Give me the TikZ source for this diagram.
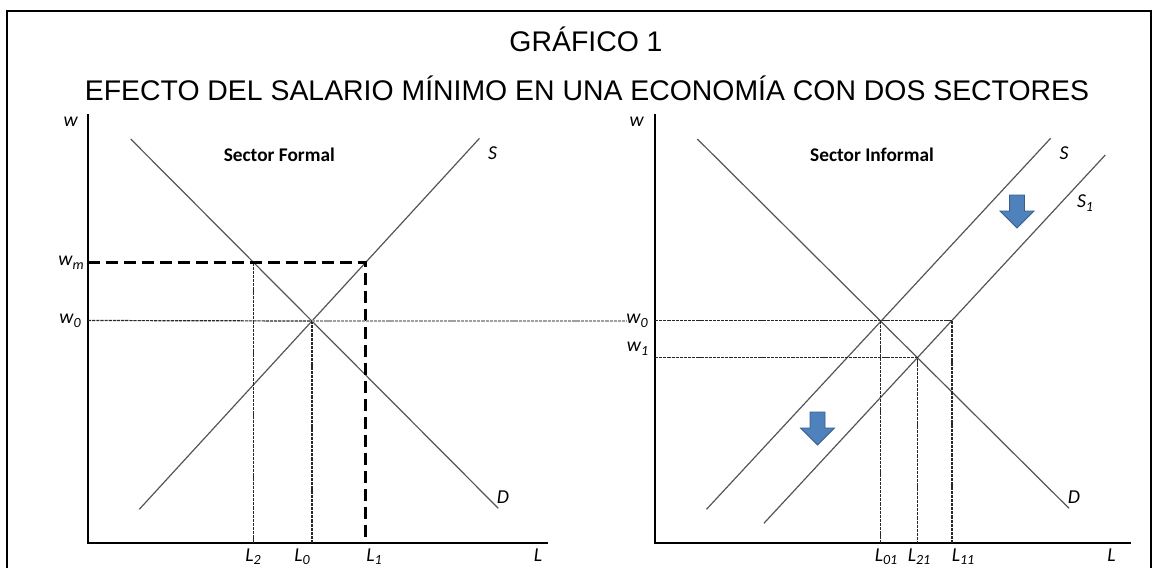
\documentclass[tikz,border=0pt]{standalone}
\usepackage{fontspec}
\setmainfont{Liberation Sans}
\newfontfamily\calfont{Carlito}
\definecolor{curvegray}{RGB}{85,85,85}
\definecolor{dashgray}{RGB}{40,40,40}
\definecolor{lightdash}{RGB}{160,160,160}
\definecolor{arrowblue}{RGB}{79,129,189}
\definecolor{arrowedge}{RGB}{56,93,138}
\newcommand{\sbx}[1]{\raisebox{-0.2em}{\fontsize{10.5}{10.5}\selectfont #1}}
\tikzset{
  frameline/.style={line width=1.5pt, black},
  axisline/.style={line width=1.1pt, black},
  curve/.style={line width=0.9pt, curvegray},
  thickdash/.style={line width=1.7pt, black, dash pattern=on 9pt off 4.5pt},
  thindash/.style={line width=0.9pt, dashgray, dash pattern=on 2.4pt off 0.7pt},
  graydash/.style={line width=0.8pt, lightdash, dash pattern=on 2.4pt off 0.7pt},
  titletext/.style={anchor=base, inner sep=0pt, font=\fontsize{21.3}{25}\selectfont},
  lab/.style={anchor=base, inner sep=0pt, font=\calfont\itshape\fontsize{14.8}{16}\selectfont},
  sectorlab/.style={anchor=base, inner sep=0pt, font=\calfont\bfseries\fontsize{14.5}{16}\selectfont},
  downarrow/.style={fill=arrowblue, draw=arrowedge, line width=0.6pt, line join=miter}
}
\begin{document}
\begin{tikzpicture}[x=0.75pt,y=-0.75pt]
\useasboundingbox (0,0) rectangle (1157,568);
% frame
\draw[frameline] (7,568) -- (7,11) -- (1151,11) -- (1151,568);
% titles
\node[titletext] (t1) at (586,51.7) {GRÁFICO 1};
\node[titletext] (t2) at (587,100) {EFECTO DEL SALARIO MÍNIMO EN UNA ECONOMÍA CON DOS SECTORES};

% ---------------- left panel ----------------
\coordinate (LO) at (88,543);
\coordinate (LYtop) at (88,114);
\coordinate (LXend) at (548,543);
\draw[axisline] (LYtop) -- (LO) -- (LXend);
\coordinate (LD1) at (130.7,139);
\coordinate (LD2) at (498.3,508.3);
\coordinate (LS1) at (139.3,509.3);
\coordinate (LS2) at (479.5,138.3);
\draw[curve] (LD1) -- (LD2);
\draw[curve] (LS1) -- (LS2);
\coordinate (LE0) at (311.9,321);
\coordinate (LA) at (253.6,262.5);
\coordinate (LB) at (365.6,262.5);
\coordinate (LWm) at (88,262.5);
\coordinate (LW0) at (88,320.5);
\coordinate (LL2) at (253.6,543);
\coordinate (LL0) at (311.9,543);
\coordinate (LL1) at (365.6,543);
\draw[thindash] (LA) -- (LL2);
\draw[thindash] (LE0) -- (LL0);
\draw[thindash] (LW0) -- (LE0);
\draw[thickdash] (LWm) -- (LB) -- (LL1);

\node[sectorlab] (secF) at (279.3,161.7) {Sector Formal};
\node[lab] (lw) at (70.7,126.7) {w};
\node[lab] (lwm) at (71,265.7) {w\sbx{m}};
\node[lab] (lw0) at (70,323.3) {w\sbx{0}};
\node[lab] (lS) at (492.6,159.3) {S};
\node[lab] (lDl) at (503,503.5) {D};
\node[lab] (lL2) at (253,561) {L\sbx{2}};
\node[lab] (lL0) at (302,561) {L\sbx{0}};
\node[lab] (lL1) at (374,561) {L\sbx{1}};
\node[lab] (lL) at (538,561) {L};

% ---------------- right panel ----------------
\coordinate (RO) at (655,543);
\coordinate (RYtop) at (655,114);
\coordinate (RXend) at (1131,543);
\draw[axisline] (RYtop) -- (RO) -- (RXend);
\coordinate (RD1) at (697.3,139);
\coordinate (RD2) at (1069,508.3);
\coordinate (RS1) at (706.5,509.3);
\coordinate (RS2) at (1050.6,138.3);
\coordinate (RT1) at (763.9,523.3);
\coordinate (RT2) at (1105.3,155);
\draw[curve] (RD1) -- (RD2);
\draw[curve] (RS1) -- (RS2);
\draw[curve] (RT1) -- (RT2);
\coordinate (RE0) at (880.8,320.5);
\coordinate (RE1) at (917.4,357.2);
\coordinate (RF) at (952,320.5);
\coordinate (RW0) at (655,320.5);
\coordinate (RW1) at (655,357.2);
\coordinate (RL01) at (880.8,543);
\coordinate (RL21) at (917.4,543);
\coordinate (RL11) at (952,543);
\draw[thindash] (RW0) -- (RF) -- (RL11);
\draw[thindash] (RE0) -- (RL01);
\draw[thindash] (RW1) -- (RE1) -- (RL21);

\node[sectorlab] (secI) at (872,161.7) {Sector Informal};
\node[lab] (rw) at (636.7,126.7) {w};
\node[lab] (rw0) at (637,323.3) {w\sbx{0}};
\node[lab] (rw1) at (637.5,351.7) {w\sbx{1}};
\node[lab] (rS) at (1064,159.3) {S};
\node[lab] (rS1) at (1085,207.3) {S\sbx{1}};
\node[lab] (rDl) at (1074,503) {D};
\node[lab] (rL01) at (886,561) {L\sbx{01}};
\node[lab] (rL21) at (919,561) {L\sbx{21}};
\node[lab] (rL11) at (963,561) {L\sbx{11}};
\node[lab] (rL) at (1111.6,561) {L};

% gray link between the two w0 levels
\draw[graydash] (LE0) -- (rw0.west |- LE0);

% blue shift arrows
\filldraw[downarrow] (1017,195) ++(-7.5,0) -- ++(15,0) -- ++(0,16) -- ++(9.5,0) -- ++(-17,17) -- ++(-17,-17) -- ++(9.5,0) -- cycle;
\filldraw[downarrow] (817.5,412) ++(-7.5,0) -- ++(15,0) -- ++(0,16) -- ++(9.5,0) -- ++(-17,17) -- ++(-17,-17) -- ++(9.5,0) -- cycle;
\end{tikzpicture}
\end{document}
